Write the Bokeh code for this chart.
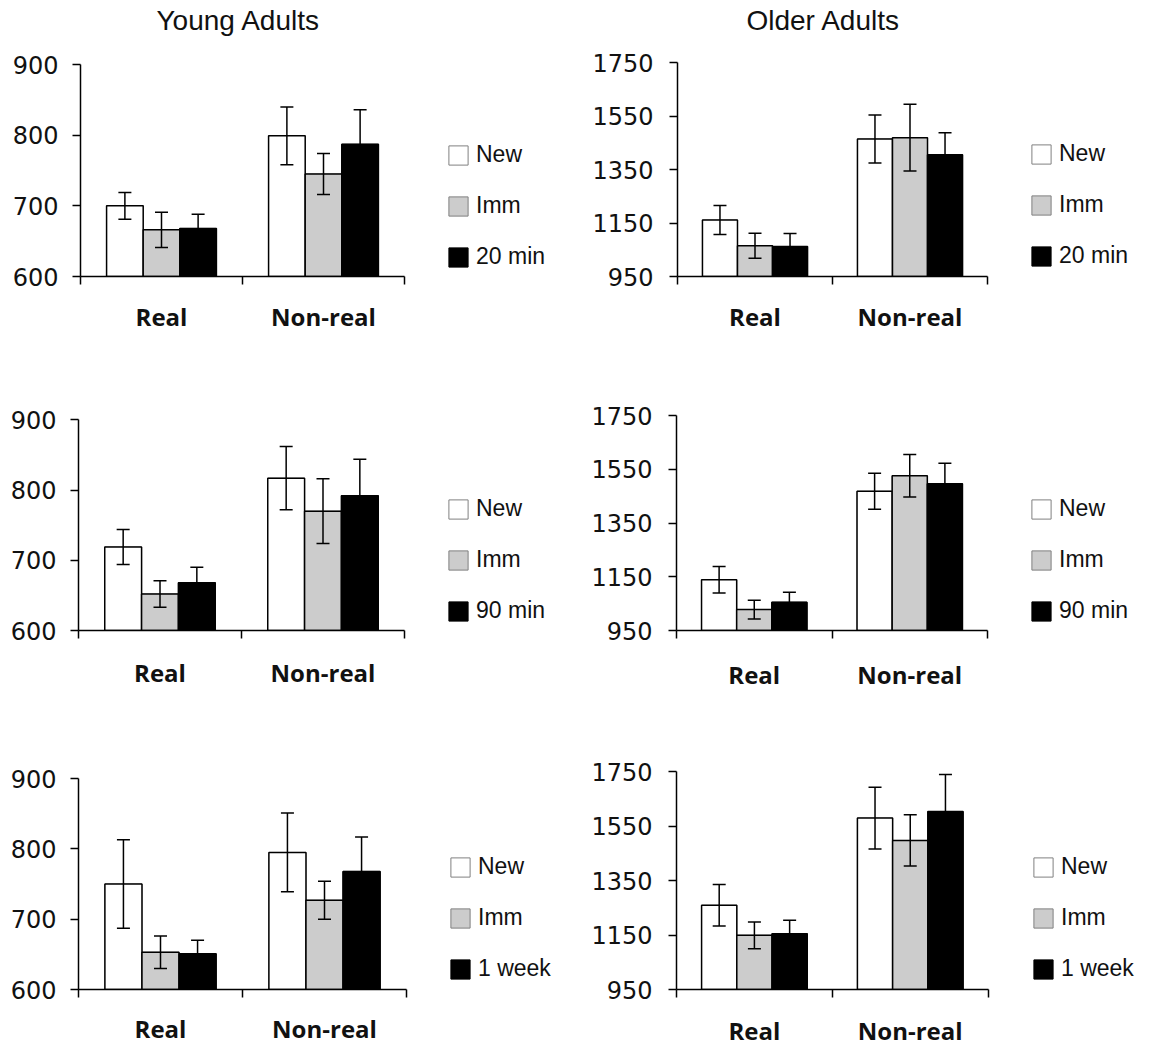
from bokeh.plotting import figure
from bokeh.models import (ColumnDataSource, Whisker, TeeHead, FixedTicker, Legend,
                          LegendItem, Range1d, LinearAxis, Label)
from bokeh.layouts import column, row
from bokeh.embed import file_html
from bokeh.resources import INLINE

# ---------------- data ----------------
categories = ["Real", "Non-real"]
series_colors = ["white", "#cccccc", "black"]
legend_outline = ["#808080", "#808080", "black"]
column_titles = ["Young Adults", "Older Adults"]

# Young adults, 20 min delay  (values for [Real, Non-real])
ya20_labels = ["New", "Imm", "20 min"]
ya20_new = [700, 799]
ya20_imm = [666, 745]
ya20_del = [668, 787]
ya20_new_err = [19, 41]
ya20_imm_err = [25, 29]
ya20_del_err = [20, 49]

# Older adults, 20 min delay
oa20_labels = ["New", "Imm", "20 min"]
oa20_new = [1161, 1464]
oa20_imm = [1065, 1469]
oa20_del = [1062, 1405]
oa20_new_err = [54, 90]
oa20_imm_err = [47, 125]
oa20_del_err = [49, 82]

# Young adults, 90 min delay
ya90_labels = ["New", "Imm", "90 min"]
ya90_new = [719, 817]
ya90_imm = [652, 770]
ya90_del = [668, 792]
ya90_new_err = [25, 45]
ya90_imm_err = [19, 46]
ya90_del_err = [22, 52]

# Older adults, 90 min delay
oa90_labels = ["New", "Imm", "90 min"]
oa90_new = [1139, 1468]
oa90_imm = [1028, 1526]
oa90_del = [1055, 1496]
oa90_new_err = [49, 67]
oa90_imm_err = [35, 79]
oa90_del_err = [37, 76]

# Young adults, 1 week delay
ya1w_labels = ["New", "Imm", "1 week"]
ya1w_new = [750, 795]
ya1w_imm = [653, 727]
ya1w_del = [651, 768]
ya1w_new_err = [63, 56]
ya1w_imm_err = [23, 27]
ya1w_del_err = [19, 49]

# Older adults, 1 week delay
oa1w_labels = ["New", "Imm", "1 week"]
oa1w_new = [1259, 1579]
oa1w_imm = [1149, 1497]
oa1w_del = [1155, 1603]
oa1w_new_err = [76, 113]
oa1w_imm_err = [49, 94]
oa1w_del_err = [49, 136]

young_ticks = [600, 700, 800, 900]
older_ticks = [950, 1150, 1350, 1550, 1750]

BAR_W = 0.226


def make_panel(labels, means, errs, yticks, width, height, bl, fa, ftop, fh,
               title=None, title_dx=0, ystandoff=14, xstandoff=14, legend_y=6):
    """fa: pixel width of the category part of the frame; ftop: top of the axis
    area (px from figure top); fh: axis height in px."""
    y0, y1 = yticks[0], yticks[-1]
    br, bt = 10, 2
    ft = width - bl - br
    x_end = len(categories) * ft / fa
    extra = ftop - bt
    y_end = y1 + (y1 - y0) * extra / fh
    bb = height - ftop - fh
    p = figure(width=width, height=height, x_range=Range1d(0, x_end),
               y_range=Range1d(y0, y_end),
               output_backend="svg", toolbar_location=None,
               x_axis_type=None, y_axis_type=None,
               min_border_left=bl, min_border_right=br,
               min_border_top=bt, min_border_bottom=bb)
    p.outline_line_color = None
    p.background_fill_color = "white"
    p.border_fill_color = "white"

    items = []
    for k, (lab, m, e, col) in enumerate(zip(labels, means, errs, series_colors)):
        xs = [i + 0.5 + (k - 1) * BAR_W for i in range(len(categories))]
        src = ColumnDataSource(dict(x=xs, top=m, bottom=[y0] * len(m),
                                    upper=[a + b for a, b in zip(m, e)],
                                    lower=[a - b for a, b in zip(m, e)]))
        # swatch style for the legend (hidden beneath the real bars)
        sw = p.vbar(x="x", top="top", bottom="bottom", width=BAR_W, source=src,
                    fill_color=col, line_color=legend_outline[k], line_width=1,
                    level="underlay")
        p.vbar(x="x", top="top", bottom="bottom", width=BAR_W, source=src,
               fill_color=col, line_color="black", line_width=1.5)
        w = Whisker(base="x", upper="upper", lower="lower", source=src,
                    line_color="black", line_width=1.5, level="annotation",
                    upper_head=TeeHead(size=13, line_width=1.5, line_color="black"),
                    lower_head=TeeHead(size=13, line_width=1.5, line_color="black"))
        p.add_layout(w)
        items.append(LegendItem(label=lab, renderers=[sw]))

    yaxis = LinearAxis(ticker=FixedTicker(ticks=yticks, minor_ticks=[]),
                       bounds=(y0, y1),
                       axis_line_width=1.5, major_tick_line_width=1.5,
                       major_tick_out=8, major_tick_in=0,
                       minor_tick_out=0, minor_tick_in=0,
                       major_label_standoff=ystandoff,
                       major_label_text_font="DejaVu Sans",
                       major_label_text_font_size="24px",
                       major_label_text_color="#111111")
    p.add_layout(yaxis, "left")

    xaxis = LinearAxis(ticker=FixedTicker(ticks=[0.5, 1.5], minor_ticks=[0, 1, 2]),
                       major_label_overrides={0.5: categories[0], 1.5: categories[1]},
                       bounds=(0, len(categories)),
                       axis_line_width=1.5,
                       major_tick_out=0, major_tick_in=0,
                       minor_tick_out=8, minor_tick_in=0, minor_tick_line_width=1.5,
                       major_label_standoff=xstandoff,
                       major_label_text_font="Open Sans",
                       major_label_text_font_style="bold",
                       major_label_text_font_size="24px",
                       major_label_text_color="#111111")
    p.add_layout(xaxis, "below")

    legend = Legend(items=items, location=(fa + 42, legend_y), orientation="vertical",
                    glyph_width=24, glyph_height=24, label_height=19, spacing=24,
                    padding=0, margin=0, border_line_color=None,
                    background_fill_alpha=0, label_standoff=6,
                    label_text_font="Liberation Sans", label_text_font_size="23px",
                    label_text_color="#111111")
    p.add_layout(legend)

    if title:
        lbl = Label(x=len(categories) / 2, y=fh + ftop - 20, x_units="data", y_units="screen",
                    x_offset=title_dx, text=title, text_align="center",
                    text_baseline="middle", text_font="Liberation Sans",
                    text_font_size="28px", text_color="#111111")
        p.add_layout(lbl)
    return p


LW, RW = 588, 560

p1 = make_panel(ya20_labels, [ya20_new, ya20_imm, ya20_del],
                [ya20_new_err, ya20_imm_err, ya20_del_err], young_ticks,
                LW, 360, 80, 324, 64, 212, title=column_titles[0], title_dx=-4,
                xstandoff=15, legend_y=6)
p2 = make_panel(oa20_labels, [oa20_new, oa20_imm, oa20_del],
                [oa20_new_err, oa20_imm_err, oa20_del_err], older_ticks,
                RW, 360, 89, 310, 62, 214, title=column_titles[1], title_dx=-9,
                ystandoff=16, xstandoff=15, legend_y=7)
p3 = make_panel(ya90_labels, [ya90_new, ya90_imm, ya90_del],
                [ya90_new_err, ya90_imm_err, ya90_del_err], young_ticks,
                LW, 360, 78, 326, 60, 213, xstandoff=17, legend_y=6)
p4 = make_panel(oa90_labels, [oa90_new, oa90_imm, oa90_del],
                [oa90_new_err, oa90_imm_err, oa90_del_err], older_ticks,
                RW, 360, 88, 311, 55, 215, ystandoff=16, xstandoff=19, legend_y=6)
p5 = make_panel(ya1w_labels, [ya1w_new, ya1w_imm, ya1w_del],
                [ya1w_new_err, ya1w_imm_err, ya1w_del_err], young_ticks,
                LW, 331, 78, 328, 59, 214, xstandoff=14, legend_y=7)
p6 = make_panel(oa1w_labels, [oa1w_new, oa1w_imm, oa1w_del],
                [oa1w_new_err, oa1w_imm_err, oa1w_del_err], older_ticks,
                RW, 331, 86, 313, 51, 218, ystandoff=16, xstandoff=16, legend_y=7)

layout = column(row(p1, p2, spacing=0), row(p3, p4, spacing=0), row(p5, p6, spacing=0),
                spacing=0)

open("out.html", "w").write(file_html(layout, INLINE))
